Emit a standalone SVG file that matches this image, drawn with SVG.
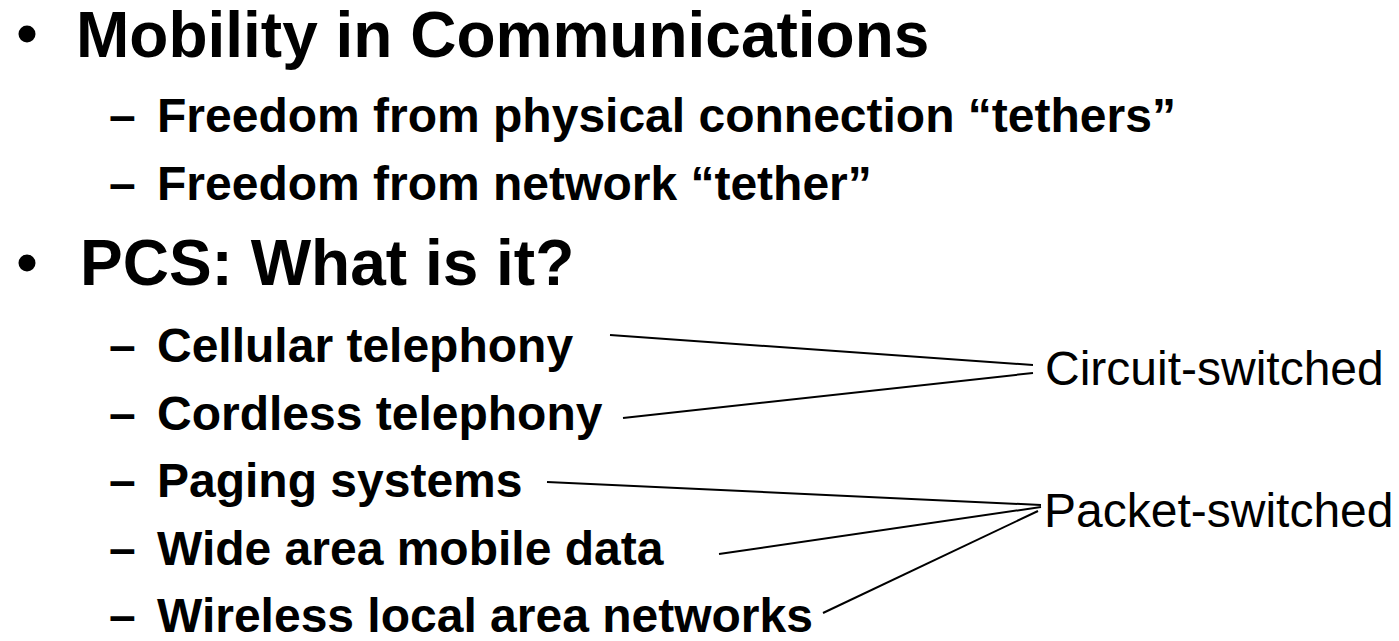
<svg xmlns="http://www.w3.org/2000/svg" width="1399" height="641" viewBox="0 0 1399 641">
<style>
text{font-family:"Liberation Sans",Arial,sans-serif;fill:#000}
.h{font-size:64px;font-weight:bold}
.s{font-size:48px;font-weight:bold}
.r{font-size:48px;font-weight:normal}
.c{stroke:#000;stroke-width:2;fill:none}
.dot{fill:#000}
</style>
<rect width="1399" height="641" fill="#fff"/>
<g id="h1"><circle class="dot" cx="27" cy="34" r="8.5"/><text class="h" x="76" y="57">Mobility in Communications</text></g>
<g id="h1a"><text class="s" x="109" y="132">–</text><text class="s" x="157" y="132">Freedom from physical connection “tethers”</text></g>
<g id="h1b"><text class="s" x="109" y="200">–</text><text class="s" x="157" y="200">Freedom from network “tether”</text></g>
<g id="h2"><circle class="dot" cx="27" cy="263" r="8.5"/><text class="h" x="80" y="285">PCS: What is it?</text></g>
<g id="cellular"><text class="s" x="109" y="362">–</text><text class="s" x="157" y="362">Cellular telephony</text></g>
<g id="cordless"><text class="s" x="109" y="430">–</text><text class="s" x="157" y="430">Cordless telephony</text></g>
<g id="paging"><text class="s" x="109" y="497">–</text><text class="s" x="157" y="497">Paging systems</text></g>
<g id="widearea"><text class="s" x="109" y="565">–</text><text class="s" x="157" y="565">Wide area mobile data</text></g>
<g id="wlan"><text class="s" x="109" y="632">–</text><text class="s" x="157" y="632">Wireless local area networks</text></g>
<g id="circuit"><text class="r" x="1045" y="385">Circuit-switched</text></g>
<g id="packet"><text class="r" x="1044" y="527">Packet-switched</text></g>
<g id="connectors">
<line class="c" x1="610" y1="335" x2="1033" y2="365"/>
<line class="c" x1="623" y1="418" x2="1033" y2="373"/>
<line class="c" x1="547" y1="482" x2="1041" y2="505"/>
<line class="c" x1="719" y1="554" x2="1041" y2="507"/>
<line class="c" x1="823" y1="613" x2="1038" y2="511"/>
</g>
</svg>
